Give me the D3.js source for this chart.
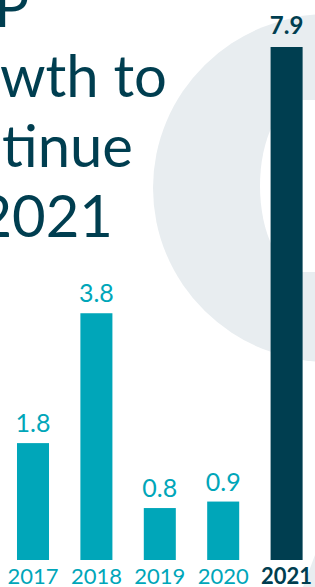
<!DOCTYPE html>
<html>
<head>
<meta charset="utf-8">
<script src="https://cdn.jsdelivr.net/npm/d3@7"></script>
<style>
  html, body { margin: 0; padding: 0; background: #fff; overflow: hidden; }
  svg { display: block; font-family: Lato, "Open Sans", sans-serif; }
</style>
</head>
<body>
<div id="chart"></div>
<script>
// data
const years = ["2017", "2018", "2019", "2020", "2021"];
const growth = [1.8, 3.8, 0.8, 0.9, 7.9];
const titleLines = ["GDP", "growth to", "continue", "in 2021"];

const width = 315, height = 587;
const teal = "#00a6b9", dark = "#003e50", pale = "#e8edf0";

const svg = d3.select("#chart").append("svg")
    .attr("width", width)
    .attr("height", height);

// big pale letter in the background
const bg = svg.append("g");
bg.append("ellipse")
    .attr("cx", 330).attr("cy", 188)
    .attr("rx", 177).attr("ry", 174)
    .attr("fill", pale);
bg.append("ellipse")
    .attr("cx", 303).attr("cy", 186)
    .attr("rx", 43).attr("ry", 86)
    .attr("fill", "#fff");
bg.append("rect")
    .attr("x", 303).attr("y", 100)
    .attr("width", 20).attr("height", 172)
    .attr("fill", "#fff");
bg.append("path")
    .attr("d", "M315,555 L303,587 L315,587 Z")
    .attr("fill", pale);

// title, cut off on the left
const titleX = [29, 167, 133, 113];
svg.append("g").selectAll("text")
    .data(titleLines)
    .join("text")
    .attr("x", (d, i) => titleX[i])
    .attr("y", (d, i) => 26.5 + i * 70)
    .attr("text-anchor", "end")
    .attr("fill", dark)
    .style("font-size", "58px")
    .text(d => d);

// scales
const x = d3.scaleBand()
    .domain(years)
    .range([1.3, 318.3])
    .paddingInner(0.495)
    .paddingOuter(0.2475);

const y = d3.scaleLinear()
    .domain([0, 7.9])
    .range([560, 47]);

const data = years.map((yr, i) => ({year: yr, value: growth[i], last: i === years.length - 1}));

// bars
svg.append("g").selectAll("rect")
    .data(data)
    .join("rect")
    .attr("x", d => x(d.year))
    .attr("y", d => y(d.value))
    .attr("width", x.bandwidth())
    .attr("height", d => y(0) - y(d.value))
    .attr("fill", d => d.last ? dark : teal);

// value labels
svg.append("g").selectAll("text")
    .data(data)
    .join("text")
    .attr("x", d => x(d.year) + x.bandwidth() / 2)
    .attr("y", d => y(d.value) - (d.last ? 13.5 : 11))
    .attr("text-anchor", "middle")
    .attr("fill", d => d.last ? dark : teal)
    .style("font-size", d => d.last ? "24px" : "25px")
    .style("font-weight", d => d.last ? 700 : 400)
    .text(d => d.value.toFixed(1));

// year labels
const xAxis = svg.append("g")
    .attr("transform", "translate(0,560)")
    .call(d3.axisBottom(x).tickSize(0).tickPadding(0));
xAxis.select(".domain").remove();
xAxis.selectAll("text")
    .attr("y", 23.5)
    .attr("dy", null)
    .attr("fill", (d, i) => i === years.length - 1 ? dark : teal)
    .style("font-family", "Lato, 'Open Sans', sans-serif")
    .style("font-size", "22px")
    .style("font-weight", (d, i) => i === years.length - 1 ? 700 : 400);
</script>
</body>
</html>
